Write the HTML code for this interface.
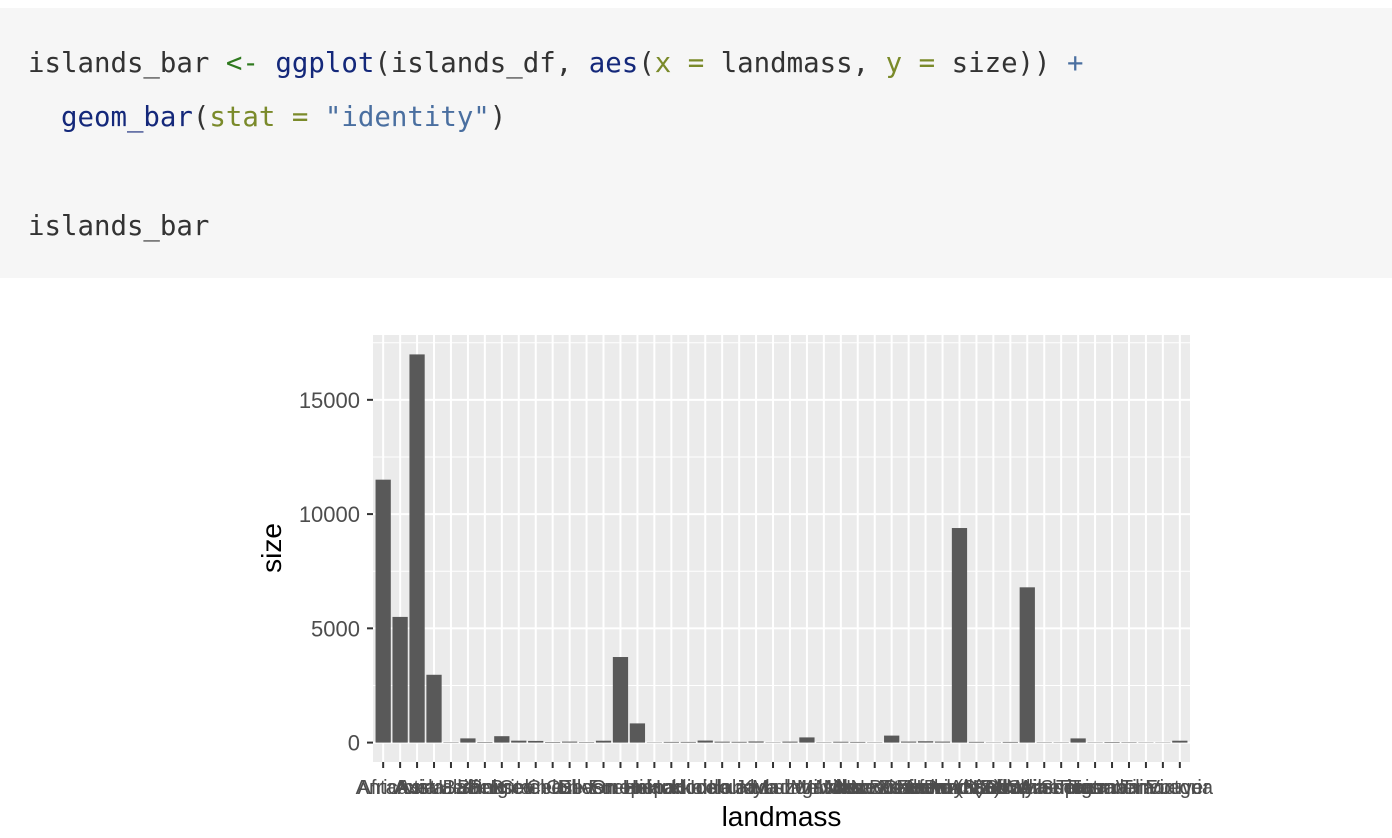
<!DOCTYPE html>
<html><head><meta charset="utf-8"><style>
body{margin:0;width:1392px;height:838px;background:#fff;overflow:hidden;position:relative}
#code{position:absolute;left:0;top:8px;width:1392px;height:270px;background:#f6f6f6}
.ln{position:absolute;left:28px;font-family:"DejaVu Sans Mono","Liberation Mono",monospace;font-size:27.4px;color:#333;white-space:pre;line-height:32px}
.f{color:#14287a}.a{color:#2f7a1f}.o{color:#7a8a2a}.s{color:#4a6fa0}.p{color:#4a6fa0}
svg{position:absolute;left:0;top:0}
</style></head><body>
<div id="code">
<div class="ln" style="top:40px">islands_bar <span class="a">&lt;-</span> <span class="f">ggplot</span>(islands_df, <span class="f">aes</span>(<span class="o">x</span> <span class="o">=</span> landmass, <span class="o">y</span> <span class="o">=</span> size)) <span class="p">+</span></div>
<div class="ln" style="top:94px">  <span class="f">geom_bar</span>(<span class="o">stat</span> <span class="o">=</span> <span class="s">"identity"</span>)</div>
<div class="ln" style="top:203px">islands_bar</div>
</div>
<svg id="chart" width="1392" height="838"></svg>
<script>
const categories=["Africa","Antarctica","Asia","Australia","Axel Heiberg","Baffin","Banks","Borneo","Britain","Celebes","Celon","Cuba","Devon","Ellesmere","Europe","Greenland","Hainan","Hispaniola","Hokkaido","Honshu","Iceland","Ireland","Java","Kyushu","Luzon","Madagascar","Melville","Mindanao","Moluccas","New Britain","New Guinea","New Zealand (N)","New Zealand (S)","Newfoundland","North America","Novaya Zemlya","Prince of Wales","Sakhalin","South America","Southampton","Spitsbergen","Sumatra","Taiwan","Tasmania","Tierra del Fuego","Timor","Vancouver","Victoria"];
const sizes=[11506,5500,16988,2968,16,184,23,280,84,73,25,43,21,82,3745,840,13,30,30,89,40,33,49,14,42,227,16,36,29,15,306,44,58,43,9390,32,13,29,6795,16,15,183,14,26,19,13,12,82];
const yTicks=[0,5000,10000,15000];
const yMinor=[2500,7500,12500,17500];
const NS="http://www.w3.org/2000/svg";
const svg=document.getElementById('chart');
const L=373,R=1190,T=335,B=762;
const ymax=Math.max(...sizes)*1.05, ymin=-Math.max(...sizes)*0.05;
const y=v=>B-(v-ymin)/(ymax-ymin)*(B-T);
const n=categories.length, step=(R-L)/(n-1+1.2);
const x=i=>L+step*(0.6+i);
function mk(t,a){const e=document.createElementNS(NS,t);for(const k in a)e.setAttribute(k,a[k]);svg.appendChild(e);return e;}
const bg=mk('rect',{x:L,y:T,width:R-L,height:B-T,fill:'#ebebeb'});


yMinor.forEach(v=>{if(v<ymax){const l=mk('line',{x1:L,x2:R,y1:y(v),y2:y(v),stroke:'#fff','stroke-width':1});

}});
yTicks.forEach(v=>{const l=mk('line',{x1:L,x2:R,y1:y(v),y2:y(v),stroke:'#fff','stroke-width':2});


const t=mk('line',{x1:L-6,x2:L,y1:y(v),y2:y(v),stroke:'#333','stroke-width':2});


const tx=mk('text',{x:L-13,y:y(v)+8,'text-anchor':'end','font-family':'Liberation Sans, sans-serif','font-size':22,fill:'#4d4d4d'});
tx.textContent=v;

});
categories.forEach((c,i)=>{const l=mk('line',{x1:x(i),x2:x(i),y1:T,y2:B,stroke:'#fff','stroke-width':2});

});
categories.forEach((c,i)=>{const w=step*0.9;
const r=mk('rect',{x:x(i)-w/2,y:y(sizes[i]),width:w,height:y(0)-y(sizes[i]),fill:'#595959'});


const t=mk('line',{x1:x(i),x2:x(i),y1:B,y2:B+6,stroke:'#333','stroke-width':2});


const tx=mk('text',{x:x(i),y:B+32,'text-anchor':'middle','font-family':'Liberation Sans, sans-serif','font-size':20,fill:'#4d4d4d'});
tx.textContent=c;

});
const xt=mk('text',{x:(L+R)/2,y:826,'text-anchor':'middle','font-family':'Liberation Sans, sans-serif','font-size':28,fill:'#000'});
xt.textContent='landmass';


const yt=mk('text',{x:0,y:0,transform:'translate(281,548) rotate(-90)','text-anchor':'middle','font-family':'Liberation Sans, sans-serif','font-size':28,fill:'#000'});
yt.textContent='size';


</script>
</body></html>
